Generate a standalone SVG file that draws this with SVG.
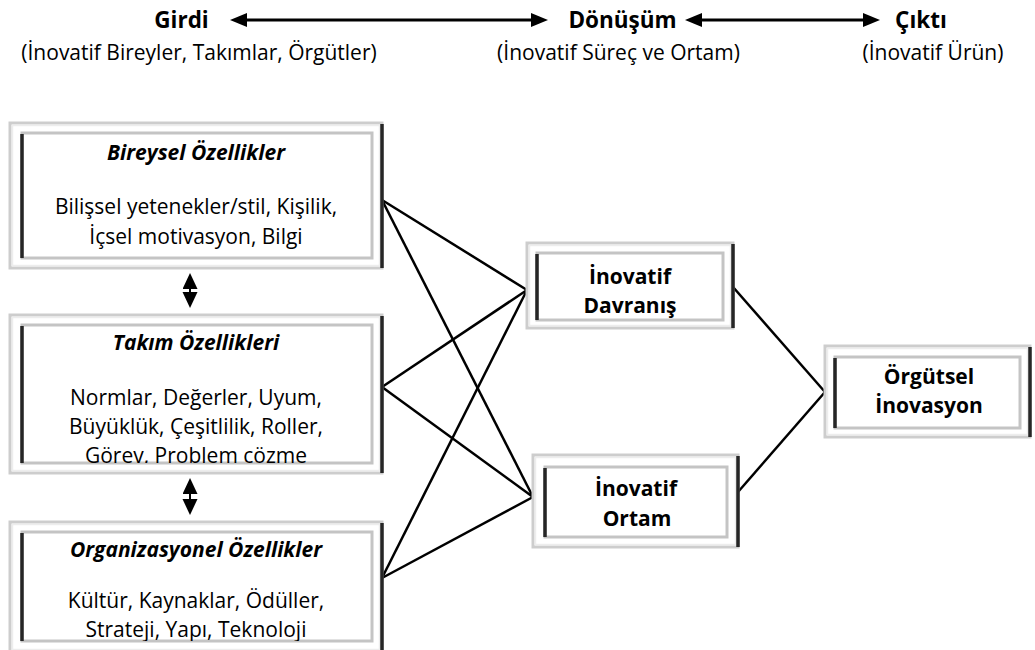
<svg xmlns="http://www.w3.org/2000/svg" width="1035" height="650" viewBox="0 0 1035 650">
  <defs>
    <style>
      .outer{fill:#fff;stroke:#cdcdcd;stroke-width:3}
      .outer-hi{fill:none;stroke:#ededed;stroke-width:1.5}
      .inner{fill:#fff;stroke:#c4c4c4;stroke-width:3}
      .dark{stroke:#262626;stroke-width:3.5;stroke-linecap:butt}
      .t{font-family:"Open Sans","Noto Sans",sans-serif;fill:#000;text-anchor:middle}
      .body{font-size:21px}
      .title{font-size:21px;font-weight:700;font-style:italic}
      .lbl{font-size:21px;font-weight:700}
      .hd{font-size:22.5px;font-weight:700}
      .sub{font-size:21px}
      .link{stroke:#000;stroke-width:2.5;fill:none}
      .harrow{stroke:#000;stroke-width:3;fill:none;marker-start:url(#hhead);marker-end:url(#hhead)}
      .varrow{stroke:#000;stroke-width:2;fill:none;marker-start:url(#vhead);marker-end:url(#vhead)}
    </style>
    <marker id="hhead" markerUnits="userSpaceOnUse" markerWidth="18" markerHeight="15" refX="12" refY="7" orient="auto-start-reverse">
      <path d="M0,0 L17,7 L0,14 Z" fill="#000"/>
    </marker>
    <marker id="vhead" markerUnits="userSpaceOnUse" markerWidth="17" markerHeight="16" refX="11" refY="7.5" orient="auto-start-reverse">
      <path d="M0,0 L16,7.5 L0,15 Z" fill="#000"/>
    </marker>
    <clipPath id="clip-takim"><rect x="22" y="325" width="350" height="138"/></clipPath>
    <clipPath id="clip-org"><rect x="22" y="532" width="350" height="109"/></clipPath>
  </defs>

  <!-- header: input / transformation / output -->
  <g id="girdi">
    <text class="t hd" x="181.5" y="28">Girdi</text>
    <text class="t sub" x="199" y="60">(İnovatif Bireyler, Takımlar, Örgütler)</text>
  </g>
  <g id="donusum">
    <text class="t hd" x="622.5" y="28">Dönüşüm</text>
    <text class="t sub" x="618.5" y="60">(İnovatif Süreç ve Ortam)</text>
  </g>
  <g id="cikti">
    <text class="t hd" x="921" y="28">Çıktı</text>
    <text class="t sub" x="933" y="60">(İnovatif Ürün)</text>
  </g>

  <!-- connectors -->
  <g id="connectors">
    <line class="harrow" x1="235" y1="20" x2="543" y2="20"/>
    <line class="harrow" x1="690" y1="20" x2="875" y2="20"/>
    <line class="varrow" x1="190" y1="278" x2="190" y2="303"/>
    <line class="varrow" x1="190" y1="483" x2="190" y2="510"/>
    <line class="link" x1="382" y1="200" x2="527" y2="290"/>
    <line class="link" x1="382" y1="200" x2="533" y2="497"/>
    <line class="link" x1="382" y1="387" x2="527" y2="290"/>
    <line class="link" x1="382" y1="387" x2="533" y2="497"/>
    <line class="link" x1="382" y1="578" x2="527" y2="290"/>
    <line class="link" x1="382" y1="578" x2="533" y2="497"/>
    <line class="link" x1="733" y1="287" x2="825" y2="392"/>
    <line class="link" x1="738" y1="492" x2="825" y2="392"/>
  </g>

  <!-- input characteristics -->
  <g id="bireysel">
    <rect class="outer" x="10" y="123" width="372" height="145"/>
    <rect class="outer-hi" x="12.5" y="125.5" width="367" height="140"/>
    <rect class="inner" x="22" y="133" width="350" height="125"/>
    <line class="dark" x1="382" y1="124" x2="382" y2="268"/>
    <line class="dark" x1="22" y1="134" x2="22" y2="258"/>
    <text class="t title" x="196" y="160">Bireysel Özellikler</text>
    <text class="t body" x="196" y="214">Bilişsel yetenekler/stil, Kişilik,</text>
    <text class="t body" x="196" y="244">İçsel motivasyon, Bilgi</text>
  </g>

  <g id="takim">
    <rect class="outer" x="10" y="315" width="372" height="158"/>
    <rect class="outer-hi" x="12.5" y="317.5" width="367" height="153"/>
    <rect class="inner" x="22" y="325" width="350" height="138"/>
    <line class="dark" x1="382" y1="316" x2="382" y2="473"/>
    <line class="dark" x1="22" y1="326" x2="22" y2="463"/>
    <g clip-path="url(#clip-takim)">
      <text class="t title" x="196" y="350">Takım Özellikleri</text>
      <text class="t body" x="196" y="405">Normlar, Değerler, Uyum,</text>
      <text class="t body" x="196" y="434">Büyüklük, Çeşitlilik, Roller,</text>
      <text class="t body" x="196" y="463">Görev, Problem çözme</text>
    </g>
  </g>

  <g id="organizasyonel">
    <rect class="outer" x="10" y="522" width="372" height="130"/>
    <rect class="outer-hi" x="12.5" y="524.5" width="367" height="125"/>
    <rect class="inner" x="22" y="532" width="350" height="109"/>
    <line class="dark" x1="382" y1="523" x2="382" y2="650"/>
    <line class="dark" x1="22" y1="533" x2="22" y2="641"/>
    <g clip-path="url(#clip-org)">
      <text class="t title" x="196" y="557">Organizasyonel Özellikler</text>
      <text class="t body" x="196" y="608">Kültür, Kaynaklar, Ödüller,</text>
      <text class="t body" x="196" y="637">Strateji, Yapı, Teknoloji</text>
    </g>
  </g>

  <!-- transformation -->
  <g id="davranis">
    <rect class="outer" x="527" y="243" width="206" height="85"/>
    <rect class="outer-hi" x="529.5" y="245.5" width="201" height="80"/>
    <rect class="inner" x="537" y="253" width="186" height="67"/>
    <line class="dark" x1="733" y1="244" x2="733" y2="328"/>
    <line class="dark" x1="537" y1="254" x2="537" y2="320"/>
    <text class="t lbl" x="630" y="284">İnovatif</text>
    <text class="t lbl" x="630" y="313">Davranış</text>
  </g>

  <g id="ortam">
    <rect class="outer" x="533" y="455" width="205" height="92"/>
    <rect class="outer-hi" x="535.5" y="457.5" width="200" height="87"/>
    <rect class="inner" x="545" y="467" width="182" height="70"/>
    <line class="dark" x1="738" y1="456" x2="738" y2="547"/>
    <line class="dark" x1="545" y1="468" x2="545" y2="537"/>
    <text class="t lbl" x="636" y="496">İnovatif</text>
    <text class="t lbl" x="637" y="526">Ortam</text>
  </g>

  <!-- output -->
  <g id="orgutsel">
    <rect class="outer" x="825" y="346" width="205" height="91"/>
    <rect class="outer-hi" x="827.5" y="348.5" width="200" height="86"/>
    <rect class="inner" x="835" y="357" width="185" height="71"/>
    <line class="dark" x1="1030" y1="347" x2="1030" y2="437"/>
    <line class="dark" x1="835" y1="358" x2="835" y2="428"/>
    <text class="t lbl" x="929" y="384">Örgütsel</text>
    <text class="t lbl" x="929" y="413">İnovasyon</text>
  </g>
</svg>
